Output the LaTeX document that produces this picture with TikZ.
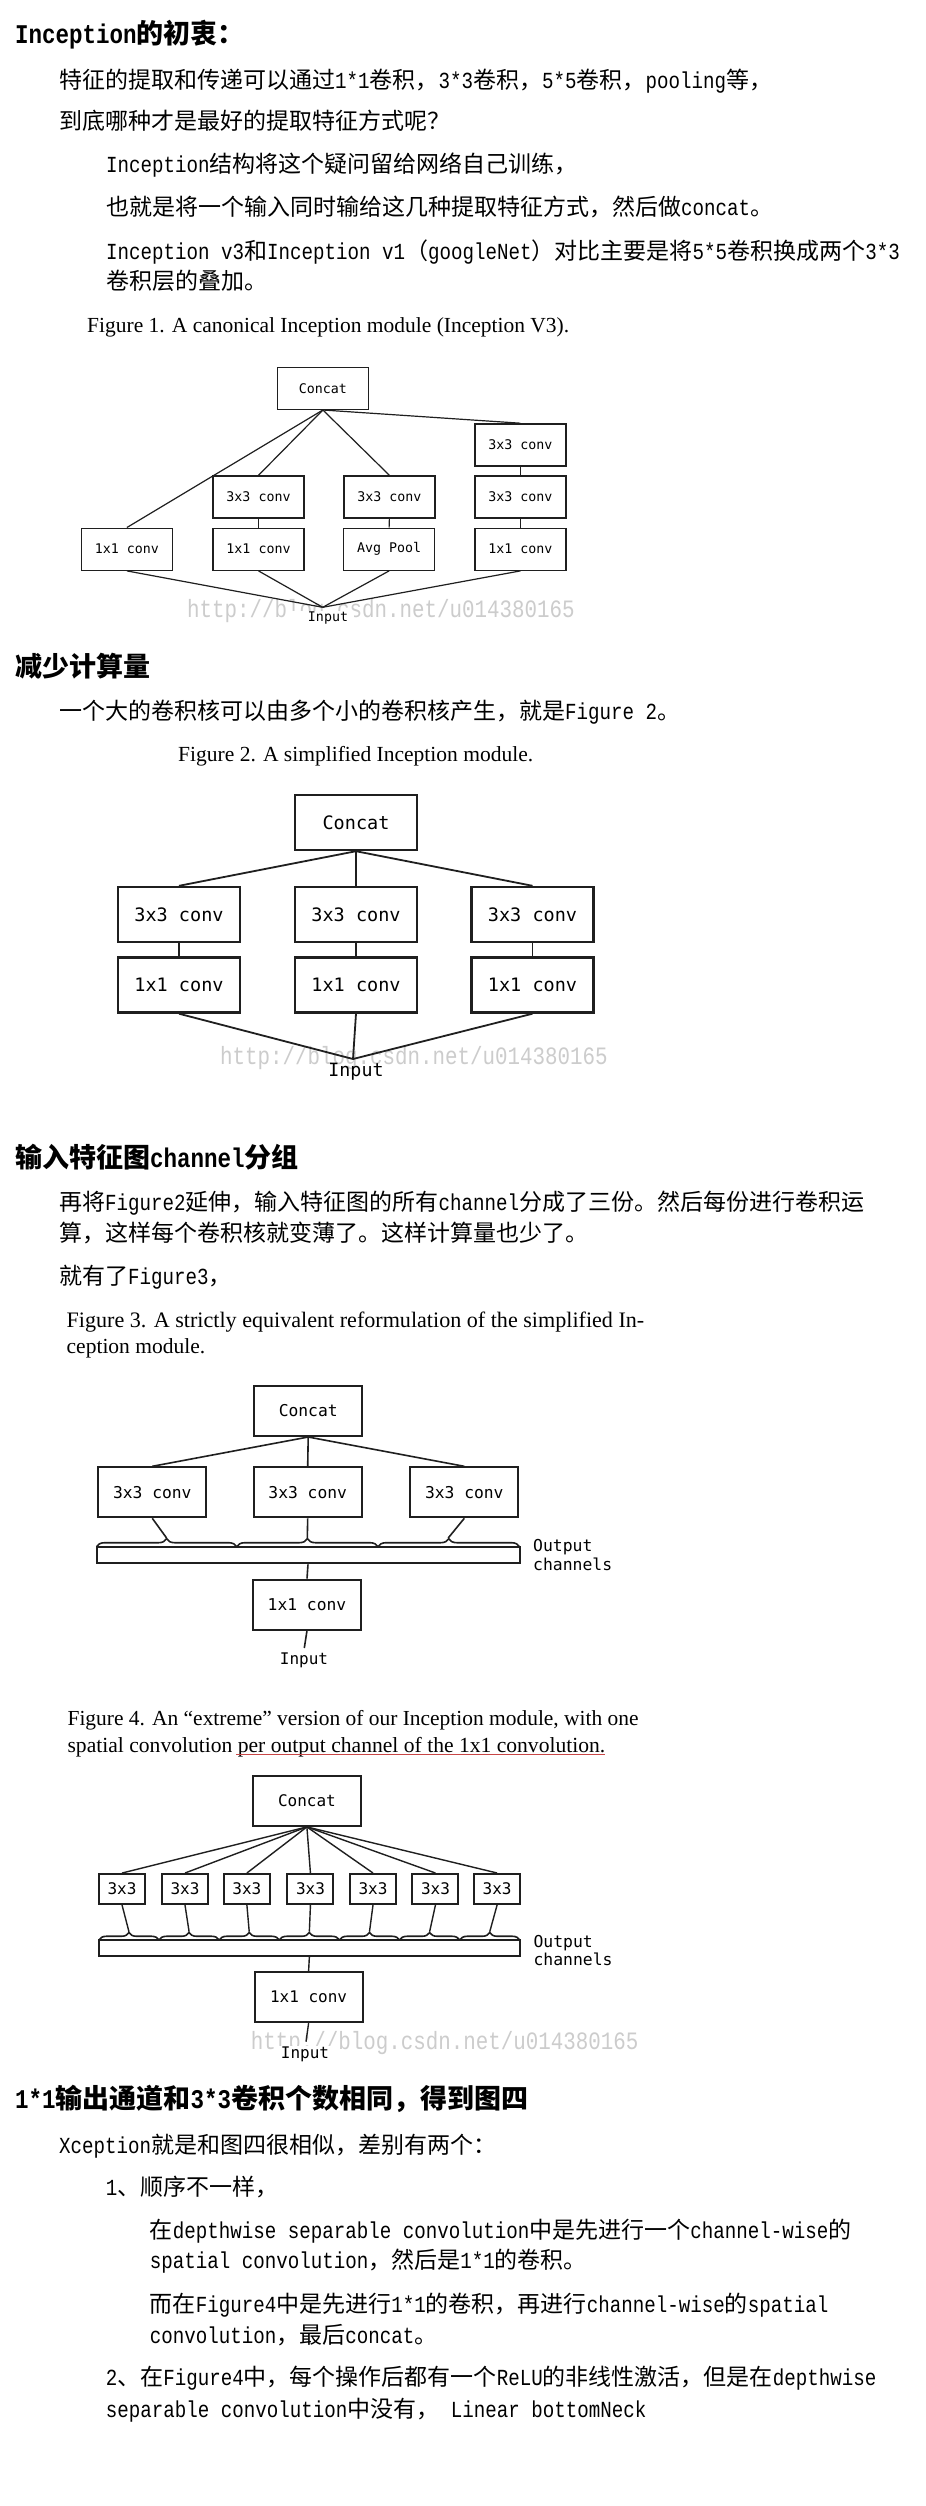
\documentclass[tikz,border=0pt]{standalone}
\usepackage{fontspec}
\setmainfont{Noto Sans CJK SC}
\newfontfamily\latmono[FakeStretch=0.8333]{Liberation Mono}
\newfontfamily\djm{DejaVu Sans Mono}
\newfontfamily\tms{Liberation Serif}
\newcommand\LT[1]{{\latmono #1}}
\usetikzlibrary{decorations.pathreplacing}
\tikzset{
 body/.style={anchor=west, inner sep=0pt, text height=20.2pt, text depth=2.8pt, font=\fontsize{23}{28}\selectfont},
 head/.style={anchor=west, inner sep=0pt, text height=23.8pt, text depth=3.2pt, font=\fontsize{27}{32}\selectfont\bfseries},
 figcap/.style={anchor=west, inner sep=0pt, font=\tms\fontsize{20}{24}\selectfont},
 wm/.style={anchor=west, inner sep=0pt, text height=17.5pt, text depth=5pt, text=black!20, font=\latmono\fontsize{25}{30}\selectfont},
 boxA/.style={draw=black!88, line width=1.4pt, minimum width=91pt, minimum height=42pt, inner sep=0pt, font=\djm\fontsize{13.3}{16}\selectfont},
 lnA/.style={draw=black!88, line width=1.2pt},
 boxB/.style={draw=black!88, line width=2.4pt, minimum width=122pt, minimum height=55pt, inner sep=0pt, font=\djm\fontsize{18.5}{22}\selectfont},
 lnB/.style={draw=black!88, line width=1.8pt},
 boxC/.style={draw=black!88, line width=2pt, minimum width=108pt, minimum height=50pt, inner sep=0pt, font=\djm\fontsize{16.3}{19}\selectfont},
 lnC/.style={draw=black!88, line width=1.6pt},
 boxD/.style={draw=black!88, line width=2pt, minimum width=46pt, minimum height=30pt, inner sep=0pt, font=\djm\fontsize{16}{19}\selectfont},
 lnD/.style={draw=black!88, line width=1.4pt},
 barbox/.style={draw=black!88, line width=2pt, inner sep=0pt},
 brc/.style={draw=black!88, line width=1.6pt, decorate, decoration={brace, amplitude=8pt}},
 lbl/.style={inner sep=0pt},
 inlbl/.style={fill=white, inner xsep=6pt, inner ysep=1.5pt},
}
\begin{document}
\begin{tikzpicture}[x=1pt,y=-1pt]
\useasboundingbox[fill=white] (0,0) rectangle (926,2506);

% ---------------- Section 1 ----------------
\node[head] (h1) at (15,33) {\LT{Inception}的初衷：};
\node[body] (t11) at (59,80) {特征的提取和传递可以通过\LT{1*1}卷积，\LT{3*3}卷积，\LT{5*5}卷积，\LT{pooling}等，};
\node[body] (t12) at (59,121) {到底哪种才是最好的提取特征方式呢？};
\node[body] (t13) at (106,164) {\LT{Inception}结构将这个疑问留给网络自己训练，};
\node[body] (t14) at (106,207) {也就是将一个输入同时输给这几种提取特征方式，然后做\LT{concat}。};
\node[body] (t15) at (106,251) {\LT{Inception v3}和\LT{Inception v1}（\LT{googleNet}）对比主要是将\LT{5*5}卷积换成两个\LT{3*3}};
\node[body] (t16) at (106,281) {卷积层的叠加。};

% ---------------- Figure 1 ----------------
\node[figcap] (cap1) at (87,327) {\resizebox{482pt}{!}{Figure 1. A canonical Inception module (Inception V3).}};
\node[wm] (wm1) at (187,611.7) {http://blog.csdn.net/u014380165};
\node[boxA] (c1) at (322.9,388.3) {Concat};
\node[boxA] (r4) at (520.4,444.9) {3x3 conv};
\node[boxA] (m2) at (258.5,497) {3x3 conv};
\node[boxA] (m3) at (389.4,497) {3x3 conv};
\node[boxA] (m4) at (520.4,497) {3x3 conv};
\node[boxA] (b1) at (126.9,549.2) {1x1 conv};
\node[boxA] (b2) at (258.5,549.2) {1x1 conv};
\node[boxA] (b3) at (389.1,549.2) {Avg Pool};
\node[boxA] (b4) at (520.4,549.2) {1x1 conv};
\coordinate (in1) at (322.7,607.3);
\node[inlbl, font=\djm\fontsize{13.3}{16}\selectfont] (inl1) at (320,618.5) {\ \ Input};
\draw[lnA] (c1.south) -- (b1.north);
\draw[lnA] (c1.south) -- (m2.north);
\draw[lnA] (c1.south) -- (m3.north);
\draw[lnA] (c1.south) -- (r4.north);
\draw[lnA] (r4.south) -- (m4.north);
\draw[lnA] (m2.south) -- (b2.north);
\draw[lnA] (m3.south) -- (b3.north);
\draw[lnA] (m4.south) -- (b4.north);
\foreach \n in {b1,b2,b3,b4} \draw[lnA] (\n.south) -- (in1);

% ---------------- Section 2 ----------------
\node[head] (h2) at (15,666) {减少计算量};
\node[body] (t21) at (59,710.7) {一个大的卷积核可以由多个小的卷积核产生，就是\LT{Figure 2}。};

% ---------------- Figure 2 ----------------
\node[figcap] (cap2) at (178,756) {\resizebox{355pt}{!}{Figure 2. A simplified Inception module.}};
\node[wm] (wm2) at (220,1058) {http://blog.csdn.net/u014380165};
\node[boxB] (c2) at (356,822.5) {Concat};
\node[boxB] (p1) at (179,914.5) {3x3 conv};
\node[boxB] (p2) at (356,914.5) {3x3 conv};
\node[boxB] (p3) at (532.5,914.5) {3x3 conv};
\node[boxB] (q1) at (179,985) {1x1 conv};
\node[boxB] (q2) at (356,985) {1x1 conv};
\node[boxB] (q3) at (532.5,985) {1x1 conv};
\coordinate (in2) at (353,1059);
\node[lbl, font=\djm\fontsize{18.3}{22}\selectfont] (inl2) at (356,1071.7) {Input};
\foreach \i in {1,2,3}{
  \draw[lnB] (c2.south) -- (p\i.north);
  \draw[lnB] (p\i.south) -- (q\i.north);
  \draw[lnB] (q\i.south) -- (in2);
}

% ---------------- Section 3 ----------------
\node[head] (h3) at (15,1156.7) {输入特征图\LT{channel}分组};
\node[body] (t31) at (59,1201.7) {再将\LT{Figure2}延伸，输入特征图的所有\LT{channel}分成了三份。然后每份进行卷积运};
\node[body] (t32) at (59,1233) {算，这样每个卷积核就变薄了。这样计算量也少了。};
\node[body] (t33) at (59,1275.7) {就有了\LT{Figure3}，};

% ---------------- Figure 3 ----------------
\node[figcap] (cap3a) at (66.5,1321.7) {\resizebox{577.5pt}{!}{Figure 3. A strictly equivalent reformulation of the simplified In-}};
\node[figcap] (cap3b) at (66.5,1348.3) {\resizebox{138.5pt}{!}{ception module.}};
\node[boxC] (c3) at (308.2,1411) {Concat};
\node[boxC] (f1) at (152.3,1492.3) {3x3 conv};
\node[boxC] (f2) at (307.7,1492.3) {3x3 conv};
\node[boxC] (f3) at (464.3,1492.3) {3x3 conv};
\node[barbox, minimum width=423pt, minimum height=16.6pt] (bar3) at (308,1555) {};
\draw[brc] (96.6,1546.7) -- (236.7,1546.7);
\draw[brc] (236.7,1546.7) -- (378,1546.7);
\draw[brc] (378,1546.7) -- (519.5,1546.7);
\coordinate (v1) at (166.6,1538);
\coordinate (v2) at (307.3,1538);
\coordinate (v3) at (448.2,1538);
\node[boxC] (g3) at (307,1604.5) {1x1 conv};
\coordinate (in3) at (304.3,1648);
\node[lbl, font=\djm\fontsize{16}{19}\selectfont] (inl3) at (304,1660.7) {Input};
\node[lbl, anchor=west, align=left, font=\djm\fontsize{16.4}{19.3}\selectfont] (oc3) at (533,1555.3) {Output\\channels};
\foreach \i in {1,2,3}{
  \draw[lnC] (c3.south) -- (f\i.north);
  \draw[lnC] (f\i.south) -- (v\i);
}
\draw[lnC] (bar3.south) -- (g3.north);
\draw[lnC] (g3.south) -- (in3);

% ---------------- Figure 4 ----------------
\node[figcap] (cap4a) at (67.4,1720) {\resizebox{571pt}{!}{Figure 4. An “extreme” version of our Inception module, with one}};
\node[figcap] (cap4b) at (67.4,1746.7) {\resizebox{537.6pt}{!}{spatial convolution per output channel of the 1x1 convolution.}};
\draw[draw={rgb,255:red,200;green,70;blue,70}, line width=1.4pt] (236,1754.3) -- (605,1754.3);
\node[wm] (wm4) at (250.6,2043.3) {http://blog.csdn.net/u014380165};
\node[boxC, font=\djm\fontsize{16}{19}\selectfont] (c4) at (306.9,1800.9) {Concat};
\foreach \i/\x in {1/122.05,2/185,3/246.9,4/310.45,5/373,6/435.45,7/497.1}{
  \node[boxD] (s\i) at (\x,1889) {3x3};
}
\node[barbox, minimum width=421pt, minimum height=16pt] (bar4) at (309.35,1948) {};
\foreach \i in {1,...,7}{
  \pgfmathsetmacro\bxa{98.9+60.13*(\i-1)}
  \pgfmathsetmacro\bxb{98.9+60.13*\i}
  \pgfmathsetmacro\bxm{98.9+60.13*(\i-0.5)}
  \draw[brc, decoration={brace, amplitude=7.5pt}] (\bxa,1940) -- (\bxb,1940);
  \coordinate (u\i) at (\bxm,1931.7);
  \draw[lnD] (c4.south) -- (s\i.north);
  \draw[lnD] (s\i.south) -- (u\i);
}
\node[boxC, font=\djm\fontsize{16}{19}\selectfont] (g4) at (308.6,1997.2) {1x1 conv};
\coordinate (in4) at (306,2041.7);
\node[inlbl, font=\djm\fontsize{16}{19}\selectfont] (inl4) at (305,2054.5) {Input};
\node[lbl, anchor=west, align=left, font=\djm\fontsize{16.4}{18.3}\selectfont] (oc4) at (533.4,1950.8) {Output\\channels};
\draw[lnD] (bar4.south) -- (g4.north);
\draw[lnD] (g4.south) -- (in4);

% ---------------- Section 4 ----------------
\node[head] (h4) at (15,2098.3) {\LT{1*1}输出通道和\LT{3*3}卷积个数相同，得到图四};
\node[body] (t41) at (59,2145) {\LT{Xception}就是和图四很相似，差别有两个：};
\node[body] (t42) at (105.6,2186.7) {\LT{1}、顺序不一样，};
\node[body] (t43) at (149.6,2230) {在\LT{depthwise separable convolution}中是先进行一个\LT{channel-wise}的};
\node[body] (t44) at (149.6,2260) {\LT{spatial convolution}，然后是\LT{1*1}的卷积。};
\node[body] (t45) at (149.6,2303.3) {而在\LT{Figure4}中是先进行\LT{1*1}的卷积，再进行\LT{channel-wise}的\LT{spatial}};
\node[body] (t46) at (149.6,2335) {\LT{convolution}，最后\LT{concat}。};
\node[body] (t47) at (105.6,2376.7) {\LT{2}、在\LT{Figure4}中，每个操作后都有一个\LT{ReLU}的非线性激活，但是在\LT{depthwise}};
\node[body] (t48) at (105.6,2408.3) {\LT{separable convolution}中没有，\LT{ Linear bottomNeck}};
\end{tikzpicture}
\end{document}
